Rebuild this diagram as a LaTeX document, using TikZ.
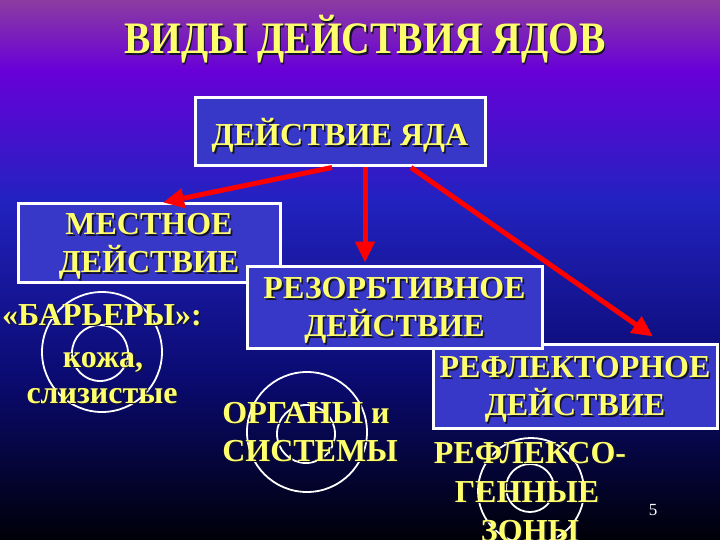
\documentclass[tikz,border=0pt]{standalone}
\usepackage{fontspec}
\setmainfont{Liberation Serif}
\usetikzlibrary{arrows.meta}
\definecolor{ylw}{RGB}{255,255,110}
\definecolor{boxfill}{RGB}{55,55,200}
\definecolor{bgA}{RGB}{140,60,160}
\definecolor{bgB}{RGB}{104,0,216}
\definecolor{bgC}{RGB}{34,34,192}
\definecolor{bgD}{RGB}{10,10,112}
\definecolor{bgE}{RGB}{0,0,8}
\definecolor{shdw}{RGB}{20,20,40}
\newcommand\shd[1]{\rlap{\kern1.6pt\raisebox{-1.6pt}[0pt][0pt]{\color{shdw}#1}}#1}
\begin{document}
\begin{tikzpicture}[x=1pt,y=-1pt,
  box/.style={draw=white,line width=3pt,fill=boxfill,text=ylw,font=\fontsize{32}{38}\selectfont\bfseries,align=center,inner sep=0pt,text depth=0pt},
  lbl/.style={text=ylw,font=\fontsize{32}{38}\selectfont\bfseries,inner sep=0pt,anchor=base},
  ring/.style={draw=white,line width=1.8pt},
  arr/.style={draw=red,line width=5pt,-{Triangle[length=21pt,width=19pt]}}]
\useasboundingbox (0,0) rectangle (720,540);
% background
\shade[top color=bgA,bottom color=bgB] (0,0) rectangle (720,70.5);
\shade[top color=bgB,bottom color=bgC] (0,70) rectangle (720,200.5);
\shade[top color=bgC,bottom color=bgD] (0,200) rectangle (720,380.5);
\shade[top color=bgD,bottom color=bgE] (0,380) rectangle (720,540);
% title
\node[text=ylw,font=\fontsize{45}{45}\selectfont\bfseries,anchor=base,inner sep=0pt,xscale=0.88] (title) at (365,54) {\shd{ВИДЫ ДЕЙСТВИЯ ЯДОВ}};
% rings
\draw[ring] (102,352) circle[radius=60];
\draw[ring] (100,353) circle[radius=28];
\draw[ring] (307,432) circle[radius=60];
\draw[ring] (306,434) circle[radius=29];
\draw[ring] (531,491) circle[radius=53];
\draw[ring] (530,488) circle[radius=24];
% boxes
\node[box,minimum width=290pt,minimum height=68pt] (yada) at (340,132) {\shd{ДЕЙСТВИЕ ЯДА}};
\node[box,minimum width=262pt,minimum height=78pt] (mest) at (149,243) {\shd{МЕСТНОЕ}\\\shd{ДЕЙСТВИЕ}};
\node[box,minimum width=284pt,minimum height=84pt] (refl) at (575,386) {\shd{РЕФЛЕКТОРНОЕ}\\\shd{ДЕЙСТВИЕ}};
\node[box,minimum width=295pt,minimum height=82pt] (rez) at (394.5,307) {\shd{РЕЗОРБТИВНОЕ}\\\shd{ДЕЙСТВИЕ}};
% arrows
\draw[arr] ([xshift=-8pt]yada.south) -- ([xshift=14pt]mest.north);
\draw[arr] ([xshift=25pt]yada.south) -- ([xshift=-29.5pt,yshift=2pt]rez.north);
\draw[arr] ([xshift=71pt]yada.south) -- ([xshift=78pt,yshift=6pt]refl.north);
% labels
\node[lbl] (barr) at (102,325) {\shd{«БАРЬЕРЫ»:}};
\node[lbl] (kozha) at (103,367) {\shd{кожа,}};
\node[lbl] (sliz) at (102,403) {\shd{слизистые}};
\node[lbl] (org) at (306,423) {\shd{ОРГАНЫ и}};
\node[lbl] (sist) at (310,461) {\shd{СИСТЕМЫ}};
\node[lbl] (rfx1) at (530,463) {\shd{РЕФЛЕКСО-}};
\node[lbl] (rfx2) at (527,502) {\shd{ГЕННЫЕ}};
\node[lbl] (rfx3) at (530,541) {\shd{ЗОНЫ}};
\node[text=white,font=\fontsize{17}{17}\selectfont,anchor=base,inner sep=0pt] (pg) at (653,515) {5};
\end{tikzpicture}
\end{document}
